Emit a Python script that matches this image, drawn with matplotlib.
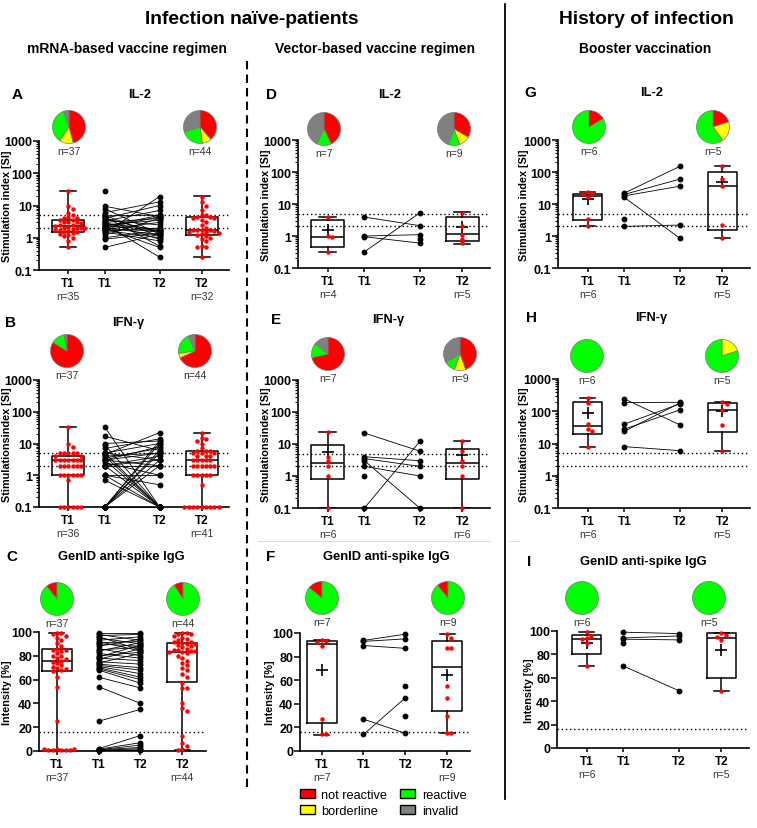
import numpy as np
import matplotlib
matplotlib.use("Agg")
import matplotlib.pyplot as plt
from matplotlib.patches import Patch
from matplotlib.lines import Line2D
from matplotlib.ticker import LogLocator, NullFormatter

plt.rcParams['font.family'] = ['Liberation Sans', 'DejaVu Sans']
plt.rcParams['font.weight'] = 'bold'
plt.rcParams['axes.labelweight'] = 'bold'

W, H = 757, 829

# categories of the pies
cats = ['not reactive', 'borderline', 'reactive', 'invalid']
cat_cols = ['#ff0000', '#ffff00', '#00ff00', '#808080']
tick_lab = ['T1', 'T1', 'T2', 'T2']

# ---- A: IL-2, mRNA ----
a_t1 = [28, 9.5, 8, 6, 5, 4.5, 4, 4, 3.5, 3.5, 3, 3, 3, 2.8, 2.5, 2.5, 2.3, 2.2, 2, 2,
        2, 2, 1.9, 1.8, 1.7, 1.6, 1.5, 1.5, 1.4, 1.3, 1.2, 1.1, 1, 0.8, 0.5]
a_t2 = [19, 13, 10, 7, 5, 5, 4.5, 4.5, 4, 4, 3.5, 3, 2.5, 2, 1.8, 1.8, 1.7, 1.7, 1.6, 1.5,
        1.5, 1.4, 1.3, 1.2, 1.1, 1, 0.9, 0.8, 0.55, 0.5, 0.5, 0.25]
a_p1 = [9.5, 8.0, 6.0, 5.0, 4.8, 4.5, 4.0, 4.0, 3.5, 3.3, 3.0, 3.0, 2.8, 2.6, 2.5, 2.4, 2.2,
        2.1, 2.0, 2.0, 1.9, 1.8, 1.7, 1.6, 1.5, 1.4, 1.2, 1.0, 0.9, 0.5]
a_p2 = [4.5, 1.3, 13.0, 1.1, 5.0, 0.55, 10.0, 1.5, 2.5, 7.0, 0.9, 4.0, 1.8, 0.25, 3.5, 1.7,
        5.0, 1.2, 0.5, 4.5, 1.6, 3.0, 1.0, 2.0, 0.8, 19.0, 4.0, 1.7, 1.4, 1.3]
a_u1, a_u2 = [28], []
a_box1 = [0.5, 1.47, 2.3, 3.5, 28]
a_box2 = [0.25, 1.19, 1.74, 4.5, 19.7]
a_mean = [None, None]
a_pie1, a_pie2 = [17, 5, 13, 2], [17, 4, 10, 13]
a_n = [37, 44, 35, 32]

# ---- B: IFN-g, mRNA ----
b_t1 = [33, 10, 8, 5, 5, 5, 5, 5, 4, 4, 3, 3, 3, 3, 3, 3, 3, 2, 2, 2, 2, 2, 2,
        1, 1, 1, 1, 1, 1, 0.7, 0.1, 0.1, 0.1, 0.1, 0.1, 0.1]
b_t2 = [22, 15, 14, 12, 10, 7, 6, 6, 6, 5, 5, 5, 4, 4, 4, 3, 3, 3, 3, 3, 2, 2, 2, 2, 2, 2,
        1, 1, 1, 1, 1, 0.5, 0.1, 0.1, 0.1, 0.1, 0.1, 0.1, 0.1, 0.1, 0.1]
b_p1 = [33, 17, 10, 9, 7, 5, 5, 5, 4.5, 4, 4, 3.5, 3, 3, 3, 3, 2.5, 2, 2, 2, 2, 1, 1, 1, 0.7,
        0.1, 0.1, 0.1, 0.1, 0.1, 0.1, 0.1]
b_p2 = [0.1, 6, 12, 0.1, 14, 3, 10, 0.1, 22, 5, 0.1, 7, 2, 5, 0.1, 8, 1, 4, 0.1, 3, 2, 0.1,
        1, 0.5, 0.1, 12, 6, 2, 3, 10, 5, 0.1]
b_u1, b_u2 = [], []
b_box1 = [0.1, 1.0, 3.0, 4.0, 33]
b_box2 = [0.1, 1.0, 3.0, 6.0, 22]
b_mean = [None, None]
b_pie1, b_pie2 = [31, 0, 5, 1], [30, 2, 9, 3]
b_n = [37, 44, 36, 41]

# ---- C: IgG, mRNA ----
c_t1 = [99, 99, 98, 97, 95, 93, 91, 88, 86, 85, 85, 84, 82, 80, 80, 78, 77, 76, 75, 74,
        72, 71, 70, 69, 68, 67, 62, 54, 25, 2, 1, 1, 0.5, 0.5, 1, 1.5, 2]
c_t2 = [99, 99, 98, 98, 97, 95, 94, 93, 92, 92, 91, 90, 90, 89, 88, 87, 86, 85, 85, 84,
        84, 83, 83, 82, 80, 78, 76, 74, 72, 70, 68, 65, 62, 57, 53, 53, 40, 36, 34, 13,
        7, 4, 2, 1]
c_p1 = [99, 98, 97, 96, 95, 93, 92, 91, 90, 88, 86, 85, 84, 82, 80, 79, 78, 77, 75, 74,
        73, 72, 71, 70, 69, 68, 62, 54, 25, 2, 1.5, 1, 1, 0.5, 0.5, 0.3]
c_p2 = [99, 93, 98, 85, 90, 96, 84, 92, 88, 94, 80, 87, 91, 78, 83, 89, 76, 86, 73, 82,
        70, 68, 65, 62, 60, 57, 53, 40, 35, 13, 7, 5, 3, 2, 1, 0.5]
c_u1, c_u2 = [], []
c_box1 = [0.5, 67, 76, 85.5, 99.5]
c_box2 = [0.5, 58, 83, 90.5, 99]
c_mean = [None, None]
c_pie1, c_pie2 = [4, 0, 33, 0], [4, 0, 40, 0]
c_n = [37, 44, 37, 44]

# ---- D: IL-2, vector ----
d_t1 = [3.9, 1.0, 0.95, 0.32]
d_t2 = [5.3, 2.1, 1.1, 0.8, 0.6]
d_p1 = [3.9, 1.0, 0.95, 0.32]
d_p2 = [2.1, 1.1, 0.6, 5.3]
d_u1, d_u2 = [], [0.8]
d_box1 = [0.31, 0.46, 0.95, 3.1, 3.9]
d_box2 = [0.55, 0.68, 1.12, 3.8, 5.5]
d_mean = [1.5, 1.95]
d_pie1, d_pie2 = [3, 0, 1, 3], [3, 1, 1, 4]
d_n = [7, 9, 4, 5]

# ---- E: IFN-g, vector ----
e_t1 = [23, 4, 3, 2, 1, 0.1]
e_t2 = [12, 6, 3, 2, 1, 0.1]
e_p1 = [22, 4, 3.5, 3, 2, 0.1]
e_p2 = [6, 3, 2, 0.1, 1, 12]
e_u1, e_u2 = [1], []
e_box1 = [0.1, 0.82, 2.5, 9.0, 23]
e_box2 = [0.1, 0.82, 2.5, 7.2, 12]
e_mean = [5.8, 4.4]
e_pie1, e_pie2 = [5, 0, 1, 1], [4, 1, 1, 3]
e_n = [7, 9, 6, 6]

# ---- F: IgG, vector ----
f_t1 = [94, 93.5, 92.5, 89, 27, 14, 14]
f_t2 = [99, 96, 87, 87, 55, 45, 30, 15, 15]
f_p1 = [93.7, 92.9, 89.4, 27, 14]
f_p2 = [99, 95, 87, 15, 45]
f_u1, f_u2 = [], [55, 30]
f_box1 = [13.8, 23.7, 91, 93, 94.3]
f_box2 = [14.9, 33.9, 71, 93.2, 99.4]
f_mean = [68.5, 64.5]
f_pie1, f_pie2 = [1, 0, 6, 0], [1, 0, 8, 0]
f_n = [7, 9, 7, 9]

# ---- G: IL-2, booster ----
g_t1 = [23, 22, 20, 16, 3.5, 2]
g_t2 = [150, 60, 36, 2.2, 0.85]
g_p1 = [22, 20, 18, 16, 2]
g_p2 = [150, 60, 36, 0.85, 2.2]
g_u1, g_u2 = [3.5], []
g_box1 = [2.0, 3.1, 18.4, 21.2, 23.4]
g_box2 = [0.85, 1.57, 36, 103, 150]
g_mean = [14.5, 50]
g_pie1, g_pie2 = [1, 0, 5, 0], [1, 1, 3, 0]
g_n = [6, 5, 6, 5]

# ---- H: IFN-g, booster ----
h_t1 = [250, 180, 40, 29, 24, 8]
h_t2 = [200, 170, 110, 38, 6]
h_p1 = [240, 185, 40, 28, 24, 8]
h_p2 = [38, 190, 170, 110, 180, 6]
h_u1, h_u2 = [], []
h_box1 = [8, 20, 35, 200, 250]
h_box2 = [6, 22, 110, 185, 200]
h_mean = [88, 105]
h_pie1, h_pie2 = [0, 0, 6, 0], [0, 1, 4, 0]
h_n = [6, 5, 6, 5]

# ---- I: IgG, booster ----
i_t1 = [99, 96, 94, 93, 90, 70]
i_t2 = [98, 97, 95, 92, 49]
i_p1 = [99, 94, 93, 70]
i_p2 = [97.8, 95.8, 92.4, 49]
i_u1, i_u2 = [90], []
i_box1 = [70.4, 80.3, 93, 96.7, 99.2]
i_box2 = [49, 60, 94.4, 98, 98]
i_mean = [89.6, 84]
i_pie1, i_pie2 = [0, 0, 6, 0], [0, 0, 5, 0]
i_n = [6, 5, 6, 5]

fig = plt.figure(figsize=(W / 100, H / 100), dpi=100)


def fx(x):
    return x / W


def fy(y):
    return 1 - y / H


def rect(x0, y0, x1, y1):
    return [x0 / W, 1 - y1 / H, (x1 - x0) / W, (y1 - y0) / H]


def swarm(vals, ypx, step):
    placed = []
    offs = []
    for v in vals:
        y = ypx(v)
        used = [s for yy, s in placed if abs(yy - y) < 3.8]
        k = 0
        cand = 0
        while cand in used:
            k += 1
            cand = (k + 1) // 2 * (1 if k % 2 else -1)
        placed.append((y, cand))
        offs.append(cand * step)
    return np.array(offs)


def pie(cx, cy, counts, n, ccw=False):
    pa = fig.add_axes(rect(cx - 17, cy - 17, cx + 17, cy + 17))
    vals = [c for c in counts if c > 0]
    cols = [cat_cols[k] for k, c in enumerate(counts) if c > 0]
    pa.pie(vals, colors=cols, startangle=90, counterclock=ccw, radius=1,
           wedgeprops=dict(edgecolor='#777777', linewidth=0.5))
    pa.set_xlim(-1.03, 1.03)
    pa.set_ylim(-1.03, 1.03)
    pa.set_aspect('equal')
    fig.text(fx(cx), fy(cy + 24), 'n=%d' % n, ha='center', va='center',
             fontsize=7.5, fontweight='normal', color='#333333')


def panel(box, scale, t1, t2, p1, p2, u1, u2, st1, st2, means, nlab, ylabel,
          pos, xlim, bw, ylx=-27):
    ax = fig.add_axes(rect(*box))
    wpx = box[2] - box[0]
    hpx = box[3] - box[1]
    if scale == 'log':
        ax.set_yscale('log')
        ax.set_ylim(0.1, 1000)
        ax.set_yticks([0.1, 1, 10, 100, 1000])
        ax.set_yticklabels(['0.1', '1', '10', '100', '1000'])
        ax.yaxis.set_minor_locator(LogLocator(base=10, subs=np.arange(2, 10)))
        ax.yaxis.set_minor_formatter(NullFormatter())
        for lv in (5, 2):
            ax.axhline(lv, color='black', lw=1.0, ls=(0, (1, 2)), zorder=1)
        ypx = lambda v: hpx * (np.log10(v) + 1) / 4
    else:
        ax.set_ylim(0, 100)
        ax.set_yticks(range(0, 101, 20))
        ax.axhline(16, color='black', lw=1.0, ls=(0, (1, 2)), zorder=1)
        ypx = lambda v: hpx * v / 100
    step = 4.3 * (xlim[1] - xlim[0]) / wpx

    stats = []
    for s, m in zip((st1, st2), means):
        d = dict(whislo=s[0], q1=s[1], med=s[2], q3=s[3], whishi=s[4], fliers=[])
        if m is not None:
            d['mean'] = m
        stats.append(d)
    lp = dict(color='black', lw=1.1)
    ax.bxp(stats, positions=[pos[0], pos[3]], widths=bw, capwidths=bw * 0.5,
           showmeans=means[0] is not None, showfliers=False, manage_ticks=False,
           boxprops=lp, whiskerprops=lp, capprops=lp, medianprops=lp,
           meanprops=dict(marker='+', markersize=8, markeredgecolor='black',
                          markeredgewidth=1.2))
    for vals, x in ((t1, pos[0]), (t2, pos[3])):
        offs = swarm(vals, ypx, step)
        ax.plot(x + offs, vals, 'o', color='#ff0000', ms=3.2, mec='none',
                clip_on=False, zorder=4)
    for a, b in zip(p1, p2):
        ax.plot([pos[1], pos[2]], [a, b], '-', color='black', lw=0.6,
                clip_on=False, zorder=3)
    ax.plot([pos[1]] * len(p1 + u1), p1 + u1, 'o', color='black', ms=3.2,
            clip_on=False, zorder=4)
    ax.plot([pos[2]] * len(p2 + u2), p2 + u2, 'o', color='black', ms=3.2,
            clip_on=False, zorder=4)

    ax.set_xlim(*xlim)
    ax.set_xticks(pos)
    ax.set_xticklabels(tick_lab)
    for sp in ('top', 'right'):
        ax.spines[sp].set_visible(False)
    for sp in ('left', 'bottom'):
        ax.spines[sp].set_linewidth(1.2)
    ax.tick_params(axis='x', labelsize=8.5, length=3, width=1.1, pad=2)
    ax.tick_params(axis='y', which='major', labelsize=9, length=4, width=1.1, pad=1)
    ax.tick_params(axis='y', which='minor', length=2, width=0.8)
    ax.set_ylabel(ylabel, fontsize=7.8)
    ax.yaxis.set_label_coords(ylx / wpx, 0.5)
    for k, x in ((2, pos[0]), (3, pos[3])):
        ax.annotate('n=%d' % nlab[k], xy=(x, 0), xycoords=('data', 'axes fraction'),
                    xytext=(0, -19), textcoords='offset points', ha='center',
                    va='center', fontsize=7.5, fontweight='normal', color='#333333')
    return ax


lab_si = 'Stimulation index [SI]'
lab_si2 = 'Stimulationsindex [SI]'
lab_int = 'Intensity [%]'
pos_log = [0.8, 1.8, 3.3, 4.45]
xl_log = (0, 5.2)
pos_lin = [1, 2, 3, 4]

panel((39, 142, 229, 271), 'log', a_t1, a_t2, a_p1, a_p2, a_u1, a_u2, a_box1, a_box2,
      a_mean, a_n, lab_si, pos_log, xl_log, 0.88)
panel((39, 381, 229, 508), 'log', b_t1, b_t2, b_p1, b_p2, b_u1, b_u2, b_box1, b_box2,
      b_mean, b_n, lab_si2, pos_log, xl_log, 0.88)
panel((39, 633, 206, 752), 'lin', c_t1, c_t2, c_p1, c_p2, c_u1, c_u2, c_box1, c_box2,
      c_mean, c_n, lab_int, pos_lin, (0.57, 4.57), 0.72)
panel((298, 141, 490, 269), 'log', d_t1, d_t2, d_p1, d_p2, d_u1, d_u2, d_box1, d_box2,
      d_mean, d_n, lab_si, pos_log, xl_log, 0.88)
panel((298, 381, 490, 509), 'log', e_t1, e_t2, e_p1, e_p2, e_u1, e_u2, e_box1, e_box2,
      e_mean, e_n, lab_si2, pos_log, xl_log, 0.88)
panel((300, 634, 470, 752), 'lin', f_t1, f_t2, f_p1, f_p2, f_u1, f_u2, f_box1, f_box2,
      f_mean, f_n, lab_int, pos_lin, (0.48, 4.55), 0.72, ylx=-25)
panel((558, 141, 750, 269), 'log', g_t1, g_t2, g_p1, g_p2, g_u1, g_u2, g_box1, g_box2,
      g_mean, g_n, lab_si, pos_log, xl_log, 0.8, ylx=-29)
panel((558, 380, 750, 509), 'log', h_t1, h_t2, h_p1, h_p2, h_u1, h_u2, h_box1, h_box2,
      h_mean, h_n, lab_si2, pos_log, xl_log, 0.8, ylx=-29)
panel((557, 632, 749, 749), 'lin', i_t1, i_t2, i_p1, i_p2, i_u1, i_u2, i_box1, i_box2,
      i_mean, i_n, lab_int, pos_log, xl_log, 0.8, ylx=-23)

# pies above each panel
pie(69, 128, a_pie1, a_n[0]); pie(200, 128, a_pie2, a_n[1])
pie(67, 352, b_pie1, b_n[0]); pie(195, 352, b_pie2, b_n[1])
pie(57, 600, c_pie1, c_n[0], ccw=True); pie(183, 600, c_pie2, c_n[1], ccw=True)
pie(324, 130, d_pie1, d_n[0]); pie(454, 130, d_pie2, d_n[1])
pie(328, 355, e_pie1, e_n[0]); pie(460, 355, e_pie2, e_n[1])
pie(322, 599, f_pie1, f_n[0], ccw=True); pie(448, 599, f_pie2, f_n[1], ccw=True)
pie(589, 128, g_pie1, g_n[0]); pie(713, 128, g_pie2, g_n[1])
pie(587, 357, h_pie1, h_n[0]); pie(722, 357, h_pie2, h_n[1])
pie(582, 599, i_pie1, i_n[0]); pie(709, 599, i_pie2, i_n[1])

# titles and panel letters
titles = [('A', 12, 140, 95, 'IL-2'), ('B', 5, 128, 323, 'IFN-γ'),
          ('C', 6, 121, 557, 'GenID anti-spike IgG'),
          ('D', 266, 390, 95, 'IL-2'), ('E', 271, 388, 320, 'IFN-γ'),
          ('F', 266, 386, 557, 'GenID anti-spike IgG'),
          ('G', 524, 652, 93, 'IL-2'), ('H', 526, 651, 318, 'IFN-γ'),
          ('I', 527, 643, 562, 'GenID anti-spike IgG')]
for let, lx, tx, ty, tt in titles:
    fig.text(fx(lx), fy(ty), let, ha='left', va='center', fontsize=11)
    fig.text(fx(tx), fy(ty), tt, ha='center', va='center', fontsize=9.3)

fig.text(fx(252), fy(20), 'Infection naïve-patients', ha='center', va='center', fontsize=13.8)
fig.text(fx(646), fy(20), 'History of infection', ha='center', va='center', fontsize=13.8)
fig.text(fx(127), fy(49), 'mRNA-based vaccine regimen', ha='center', va='center', fontsize=10)
fig.text(fx(375), fy(49), 'Vector-based vaccine regimen', ha='center', va='center', fontsize=10)
fig.text(fx(645), fy(49), 'Booster vaccination', ha='center', va='center', fontsize=10)

fig.add_artist(Line2D([fx(247), fx(247)], [fy(62), fy(792)], color='black', lw=1.5,
                      ls=(0, (4, 2.5))))
fig.add_artist(Line2D([fx(505), fx(505)], [fy(5), fy(800)], color='black', lw=1.3))
# faint separator traces under panels E and H
fig.add_artist(Line2D([fx(258), fx(490)], [fy(542), fy(542)], color='#dddddd', lw=0.8))
fig.add_artist(Line2D([fx(508), fx(519)], [fy(542), fy(542)], color='#dddddd', lw=0.8))

handles = [Patch(facecolor=c, edgecolor='black', lw=1.0) for c in cat_cols]
fig.legend(handles, cats, ncol=2, loc='center', bbox_to_anchor=(fx(383), fy(804)),
           frameon=False, prop=dict(size=9.2, weight='normal'), handlelength=1.2,
           handleheight=0.65, handletextpad=0.5, columnspacing=1.0, labelspacing=0.35)

fig.savefig('out.png', dpi=100)
